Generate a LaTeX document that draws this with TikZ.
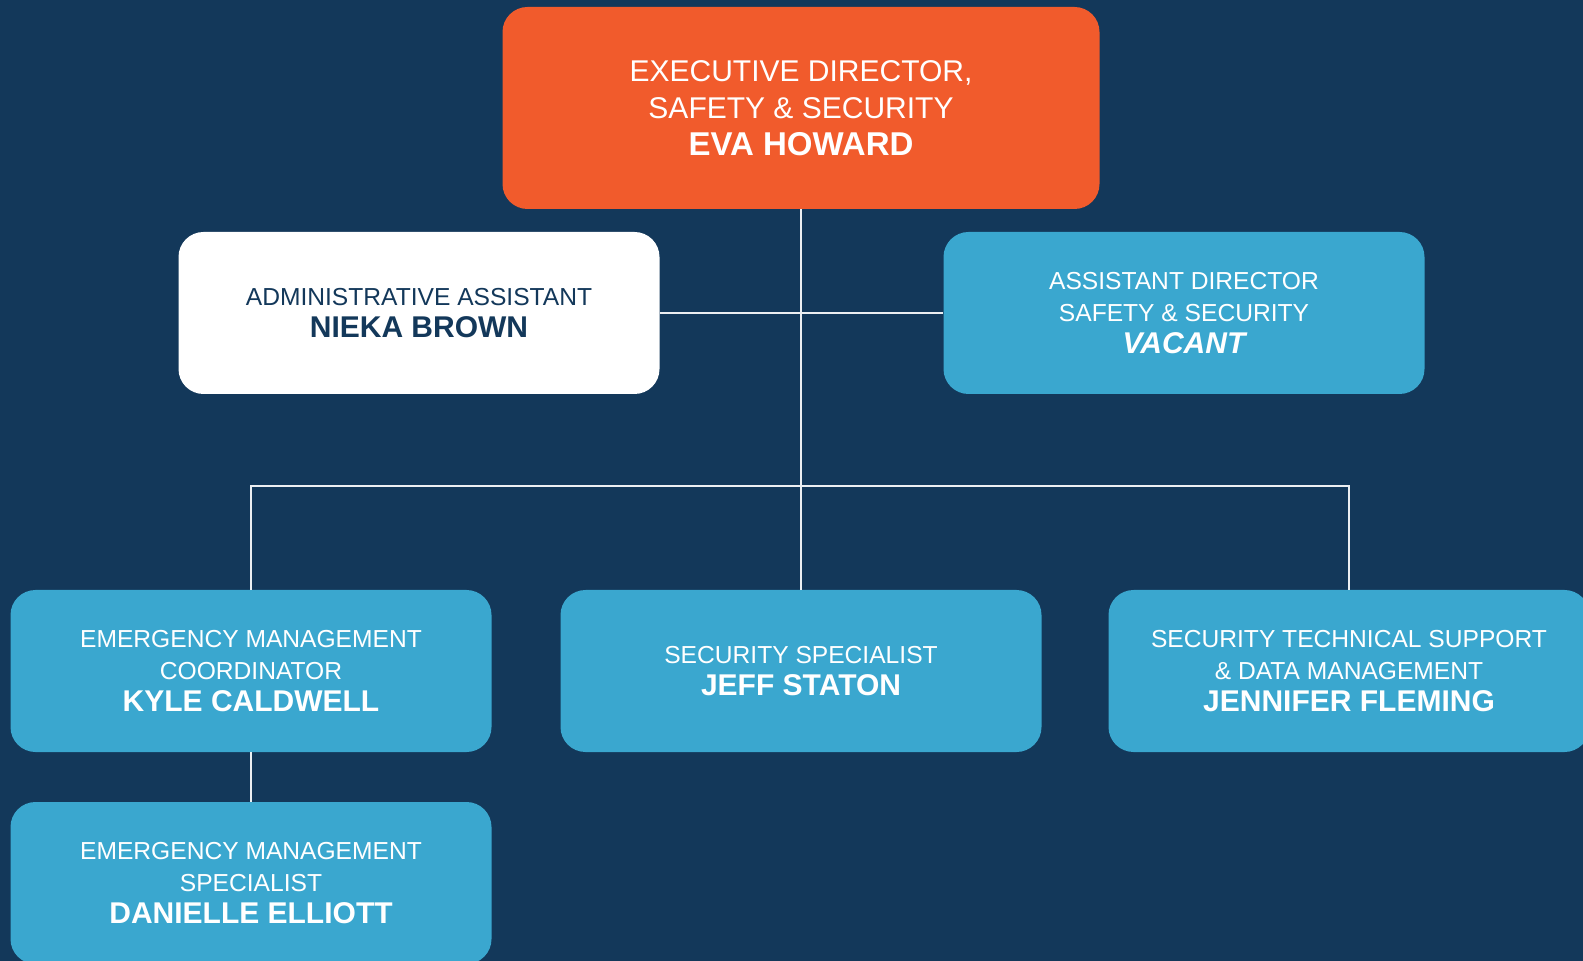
\documentclass[tikz,border=0pt]{standalone}
\usepackage{fontspec}
\setmainfont{Liberation Sans}
\definecolor{navy}{HTML}{13385A}
\definecolor{orgbox}{HTML}{F15B2C}
\definecolor{bluebox}{HTML}{3AA7CF}
\newcommand{\roletxt}{\fontsize{12.3}{16}\selectfont}
\newcommand{\nametxt}{\fontsize{15}{16}\selectfont\bfseries}
\newcommand{\toprole}{\fontsize{15}{18.5}\selectfont}
\newcommand{\topname}{\fontsize{16.5}{18.5}\selectfont\bfseries}
\tikzset{
  card/.style={rounded corners=12.5pt, minimum width=240.5pt, minimum height=81pt,
    align=center, text=white, fill=bluebox, inner sep=0pt, font=\roletxt},
  link/.style={draw=white!92!navy, line width=1pt}
}
\begin{document}
\begin{tikzpicture}[x=0.5pt,y=-0.5pt]
\fill[navy] (0,0) rectangle (1583,961);
\useasboundingbox (0,0) rectangle (1583,961);
% people
\node[card, fill=orgbox, minimum width=298.5pt, minimum height=101pt, font=\toprole] (exec) at (801,108)
  {EXECUTIVE DIRECTOR,\\ SAFETY \& SECURITY\\ \topname EVA HOWARD};
\node[card, fill=white, text=navy] (admin) at (419,313)
  {ADMINISTRATIVE ASSISTANT\\ \nametxt NIEKA BROWN};
\node[card] (asst) at (1184,313)
  {ASSISTANT DIRECTOR\\ SAFETY \& SECURITY\\ \nametxt\itshape VACANT};
\node[card] (emc) at (251,671)
  {EMERGENCY MANAGEMENT\\ COORDINATOR\\ \nametxt KYLE CALDWELL};
\node[card] (secspec) at (801,671)
  {SECURITY SPECIALIST\\ \nametxt JEFF STATON};
\node[card] (tech) at (1349,671)
  {SECURITY TECHNICAL SUPPORT\\ \& DATA MANAGEMENT\\ \nametxt JENNIFER FLEMING};
\node[card] (ems) at (251,883)
  {EMERGENCY MANAGEMENT\\ SPECIALIST\\ \nametxt DANIELLE ELLIOTT};
% lines
\coordinate (bus) at (801,486);
\draw[link] (exec) -- (secspec);
\draw[link] (admin) -- (asst);
\draw[link] (emc) |- (bus) -| (tech);
\draw[link] (emc) -- (ems);
\end{tikzpicture}
\end{document}
